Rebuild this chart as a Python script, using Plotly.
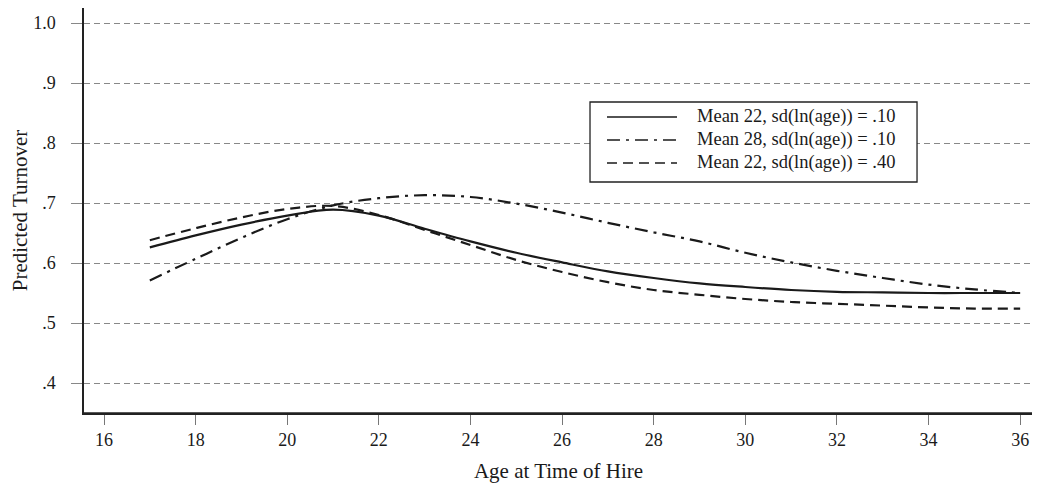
import plotly.graph_objects as go

ages = list(range(17, 37))
mean22_sd10 = [0.626, 0.646, 0.664, 0.679, 0.689, 0.679, 0.657, 0.636, 0.617, 0.601,
               0.586, 0.575, 0.566, 0.560, 0.555, 0.552, 0.551, 0.550, 0.550, 0.550]
mean28_sd10 = [0.571, 0.607, 0.642, 0.673, 0.696, 0.708, 0.713, 0.710, 0.699, 0.684,
               0.667, 0.651, 0.636, 0.617, 0.601, 0.587, 0.575, 0.564, 0.556, 0.550]
mean22_sd40 = [0.638, 0.658, 0.676, 0.690, 0.695, 0.680, 0.655, 0.630, 0.605, 0.585,
               0.568, 0.555, 0.547, 0.540, 0.535, 0.532, 0.529, 0.526, 0.524, 0.524]
series_names = ["Mean 22, sd(ln(age)) = .10", "Mean 28, sd(ln(age)) = .10", "Mean 22, sd(ln(age)) = .40"]
x_ticks = list(range(16, 37, 2))
y_ticks = [0.4, 0.5, 0.6, 0.7, 0.8, 0.9, 1.0]
y_tick_labels = [".4", ".5", ".6", ".7", ".8", ".9", "1.0"]

FONT = "Liberation Serif"
INK = "#1a1a1a"
dashes = ["solid", "13px,6px,3px,6px", "10px,6px"]

fig = go.Figure()
for name, ys, dash in zip(series_names, [mean22_sd10, mean28_sd10, mean22_sd40], dashes):
    fig.add_trace(go.Scatter(
        x=ages, y=ys, mode="lines", name=name, showlegend=False,
        line=dict(color=INK, width=2.2, dash=dash, shape="spline", smoothing=1.0),
    ))

# custom legend box (paper coordinates)
box_x0, box_x1, box_y0, box_y1 = 0.5332, 0.8778, 0.5704, 0.7679
row_y = [0.7309, 0.6741, 0.6173]
sample_x0, sample_x1, text_x = 0.5511, 0.6249, 0.6438
shapes = [dict(type="rect", xref="paper", yref="paper", x0=box_x0, x1=box_x1, y0=box_y0, y1=box_y1,
               line=dict(color="#222", width=1.3), fillcolor="white", layer="above")]
annotations = []
for name, dash, ry in zip(series_names, dashes, row_y):
    shapes.append(dict(type="line", xref="paper", yref="paper", x0=sample_x0, x1=sample_x1, y0=ry, y1=ry,
                       line=dict(color=INK, width=1.6, dash=dash), layer="above"))
    annotations.append(dict(xref="paper", yref="paper", x=text_x, y=ry, text=name, showarrow=False,
                            xanchor="left", yanchor="middle",
                            font=dict(family=FONT, size=18.5, color=INK)))
# x axis line continues to the right edge
shapes.append(dict(type="line", xref="paper", yref="paper", x0=0, x1=1.0074, y0=0, y1=0,
                   line=dict(color="#222", width=1.5), layer="above"))

fig.update_layout(
    width=1032, height=480,
    margin=dict(l=76, r=7, t=0, b=75),
    paper_bgcolor="white", plot_bgcolor="white",
    font=dict(family=FONT, size=18, color=INK),
    showlegend=False,
    shapes=shapes, annotations=annotations,
)
fig.update_xaxes(
    range=[15.563, 36.28], tickvals=x_ticks,
    showgrid=False, zeroline=False,
    showline=True, linecolor="#222", linewidth=1.5,
    ticks="outside", ticklen=10, tickcolor="#777", tickwidth=1,
    tickfont=dict(family=FONT, size=18, color=INK),
    title=dict(text="Age at Time of Hire", font=dict(family=FONT, size=21, color=INK), standoff=14),
    automargin=False,
)
fig.update_yaxes(
    range=[0.35, 1.025], tickvals=y_ticks, ticktext=y_tick_labels,
    showgrid=True, gridcolor="#888", griddash="6px,4px", gridwidth=1,
    zeroline=False,
    showline=True, linecolor="#222", linewidth=1.5,
    ticks="outside", ticklen=11, tickcolor="#888", tickwidth=1,
    ticklabelstandoff=12,
    tickfont=dict(family=FONT, size=18, color=INK),
    title=dict(text="Predicted Turnover", font=dict(family=FONT, size=21, color=INK), standoff=7),
    automargin=False,
)

fig.write_html("out.html")
